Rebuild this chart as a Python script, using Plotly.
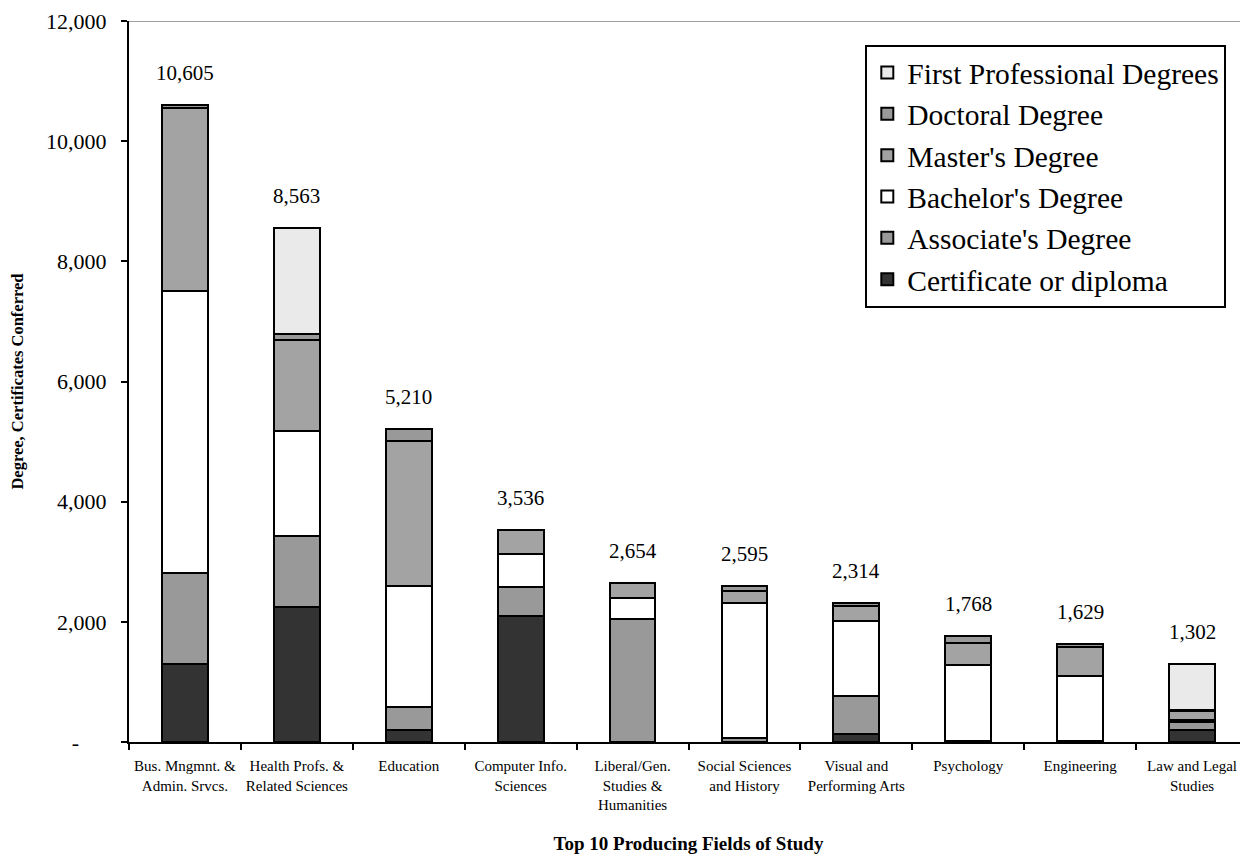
import plotly.graph_objects as go

categories = [
    "Bus. Mngmnt. &<br>Admin. Srvcs.",
    "Health Profs. &<br>Related Sciences",
    "Education",
    "Computer Info.<br>Sciences",
    "Liberal/Gen.<br>Studies &<br>Humanities",
    "Social Sciences<br>and History",
    "Visual and<br>Performing Arts",
    "Psychology",
    "Engineering",
    "Law and Legal<br>Studies",
]

certificate = [1300, 2240, 205, 2105, 0, 0, 130, 25, 25, 200]
associate = [1510, 1185, 385, 470, 2045, 60, 635, 0, 0, 125]
bachelor = [4700, 1745, 2010, 560, 358, 2250, 1255, 1260, 1070, 45]
master = [3050, 1525, 2415, 395, 251, 205, 245, 365, 483, 150]
doctoral = [45, 95, 195, 6, 0, 80, 49, 118, 51, 10]
first_prof = [0, 1773, 0, 0, 0, 0, 0, 0, 0, 772]
totals = [10605, 8563, 5210, 3536, 2654, 2595, 2314, 1768, 1629, 1302]

tick_vals = [0, 2000, 4000, 6000, 8000, 10000, 12000]
tick_text = ["-\u00a0\u00a0\u00a0\u00a0\u00a0", "2,000", "4,000", "6,000", "8,000", "10,000", "12,000"]

series = [
    ("Certificate or diploma", certificate, "#333333"),
    ("Associate's Degree", associate, "#999999"),
    ("Bachelor's Degree", bachelor, "#FFFFFF"),
    ("Master's Degree", master, "#A3A3A3"),
    ("Doctoral Degree", doctoral, "#999999"),
    ("First Professional Degrees", first_prof, "#EAEAEA"),
]

FONT = "Liberation Serif"

fig = go.Figure()
n = len(series)
for i, (name, vals, color) in enumerate(series):
    fig.add_trace(go.Bar(
        x=categories, y=vals, name=name, legendgroup=name,
        legendrank=100 * (n - i),
        marker=dict(color=color, line=dict(color="#000000", width=2)),
    ))

for cat, tot in zip(categories, totals):
    fig.add_annotation(x=cat, y=tot, text=f"{tot:,}", showarrow=False,
                       yanchor="bottom", yshift=18,
                       font=dict(family=FONT, size=21, color="#000000"))

fig.add_shape(type="line", xref="paper", yref="y", x0=0, x1=1, y0=12000, y1=12000,
              line=dict(color="#808080", width=1.5))

fig.update_layout(
    width=1240, height=855,
    margin=dict(l=121, r=0, t=13, b=121, autoexpand=False),
    barmode="stack", bargap=0.59,
    plot_bgcolor="white", paper_bgcolor="white",
    font=dict(family=FONT, color="#000000"),
    showlegend=True,
    legend=dict(
        x=0.658, y=0.967, xanchor="left", yanchor="top",
        traceorder="grouped", tracegroupgap=0,
        bordercolor="#000000", borderwidth=2, bgcolor="white",
        font=dict(family=FONT, size=29.5, color="#000000"),
    ),
    xaxis=dict(
        showline=True, linecolor="#000000", linewidth=2,
        ticks="outside", ticklen=6, tickwidth=2, tickcolor="#000000",
        tickson="boundaries", ticklabelstandoff=9, tickangle=0,
        tickfont=dict(family=FONT, size=15),
        title=dict(text="<b>Top 10 Producing Fields of Study</b>",
                   font=dict(family=FONT, size=19), standoff=25),
        showgrid=False,
    ),
    yaxis=dict(
        range=[0, 12000],
        tickvals=tick_vals, ticktext=tick_text,
        showline=True, linecolor="#000000", linewidth=2,
        ticks="outside", ticklen=6, tickwidth=2, tickcolor="#000000",
        ticklabelstandoff=10, ticklabeloverflow="allow",
        tickfont=dict(family=FONT, size=22),
        title=dict(text="<b>Degree, Certificates Conferred</b>",
                   font=dict(family=FONT, size=16.5), standoff=24),
        showgrid=False, zeroline=False,
    ),
)

fig.write_html("out.html")
